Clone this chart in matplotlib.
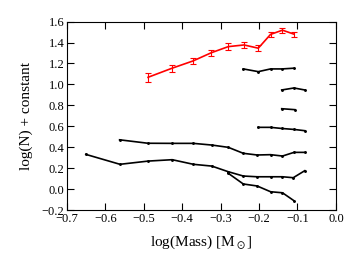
import matplotlib
matplotlib.use("Agg")
from matplotlib import pyplot as plt

plt.rcParams['font.family'] = ['Liberation Serif', 'DejaVu Serif']
plt.rcParams['mathtext.fontset'] = 'stix'

# red series with error bars
red_x = [-0.489, -0.427, -0.372, -0.324, -0.280, -0.239, -0.202, -0.170, -0.139, -0.109]
red_y = [1.068, 1.154, 1.224, 1.303, 1.361, 1.377, 1.346, 1.478, 1.518, 1.480]
red_err = [0.045, 0.035, 0.03, 0.03, 0.03, 0.025, 0.03, 0.025, 0.025, 0.025]

# black curves (top to bottom)
a_x = [-0.241, -0.202, -0.170, -0.140, -0.109]
a_y = [1.148, 1.122, 1.148, 1.148, 1.155]

b_x = [-0.141, -0.109, -0.081]
b_y = [0.947, 0.966, 0.947]

c_x = [-0.141, -0.107]
c_y = [0.768, 0.759]

d_x = [-0.202, -0.170, -0.140, -0.109, -0.081]
d_y = [0.590, 0.590, 0.579, 0.570, 0.558]

e_x = [-0.563, -0.489, -0.427, -0.371, -0.323, -0.280, -0.241, -0.205, -0.170, -0.139, -0.109, -0.081]
e_y = [0.471, 0.438, 0.437, 0.437, 0.421, 0.399, 0.342, 0.326, 0.329, 0.316, 0.351, 0.351]

f_x = [-0.651, -0.562, -0.488, -0.426, -0.371, -0.323, -0.280, -0.241, -0.205, -0.170, -0.139, -0.111, -0.081]
f_y = [0.332, 0.237, 0.268, 0.281, 0.237, 0.220, 0.166, 0.125, 0.118, 0.118, 0.118, 0.109, 0.176]

g_x = [-0.280, -0.241, -0.205, -0.170, -0.139, -0.109]
g_y = [0.151, 0.049, 0.030, -0.025, -0.035, -0.111]

fig = plt.figure(figsize=(3.6, 2.7), dpi=100)
ax = fig.add_axes([0.186, 0.222, 0.747, 0.698])

for xs, ys in [(a_x, a_y), (b_x, b_y), (c_x, c_y), (d_x, d_y),
               (e_x, e_y), (f_x, f_y), (g_x, g_y)]:
    ax.plot(xs, ys, color='black', lw=1.2, marker='.', ms=2.2)

ax.errorbar(red_x, red_y, yerr=red_err, color='red', lw=1.2,
            capsize=2, capthick=0.8, elinewidth=0.8)

ax.set_xlim(-0.7, 0.0)
ax.set_ylim(-0.2, 1.6)
ax.set_xticks([-0.7, -0.6, -0.5, -0.4, -0.3, -0.2, -0.1, 0.0])
ax.set_yticks([-0.2, 0.0, 0.2, 0.4, 0.6, 0.8, 1.0, 1.2, 1.4, 1.6])
ax.tick_params(direction='in', top=True, right=True, length=5, labelsize=9, pad=2)
ax.set_xlabel(r'log(Mass) [M$_\odot$]', fontsize=11, labelpad=6)
ax.set_ylabel('log(N) + constant', fontsize=11, labelpad=6)

fig.savefig('out.png', dpi=100)
